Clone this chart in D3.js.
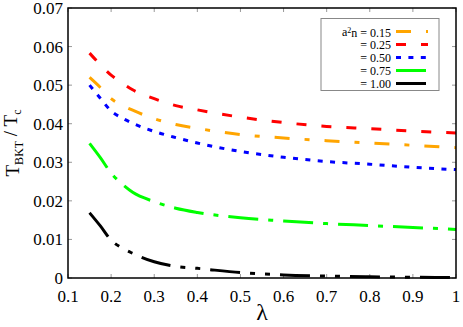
<!DOCTYPE html>
<html>
<head>
<meta charset="utf-8">
<title>T_BKT / T_c vs lambda</title>
<script src="https://cdn.jsdelivr.net/npm/d3@7"></script>
<style>
  body { margin: 0; background: #fff; }
  svg text { font-family: 'Liberation Serif', 'Times New Roman', Times, serif; }
</style>
</head>
<body>
<div id="chart"></div>
<script>
// lambda values where the curves are read
var lambda = [0.15, 0.175, 0.2, 0.225, 0.25, 0.3, 0.35, 0.4, 0.5, 0.6, 0.7, 0.8, 0.9, 1.0];

// T_BKT / T_c for each a^2 n
var t015 = [0.0520, 0.0494, 0.0465, 0.0448, 0.0435, 0.0413, 0.0398, 0.0388, 0.0372, 0.0363, 0.0356, 0.0350, 0.0344, 0.0338];
var t025 = [0.0583, 0.0553, 0.0526, 0.0506, 0.0488, 0.0465, 0.0447, 0.0436, 0.0417, 0.0403, 0.0393, 0.0387, 0.0381, 0.0376];
var t050 = [0.0500, 0.0466, 0.0433, 0.0415, 0.0401, 0.0380, 0.0364, 0.0350, 0.0328, 0.0313, 0.0302, 0.0295, 0.0287, 0.0281];
var t075 = [0.0349, 0.0312, 0.0272, 0.0244, 0.0222, 0.0198, 0.0181, 0.0170, 0.0156, 0.0148, 0.0141, 0.0136, 0.0131, 0.0126];
var t100 = [0.0169, 0.0135, 0.0098, 0.0078, 0.0064, 0.0042, 0.0030, 0.0025, 0.0014, 0.0008, 0.0005, 0.0003, 0.0002, 0.0001];

var legendLabels = ["0.15", "0.25", "0.50", "0.75", "1.00"];
var xTicks = [0.1, 0.2, 0.3, 0.4, 0.5, 0.6, 0.7, 0.8, 0.9, 1];
var yTicks = [0, 0.01, 0.02, 0.03, 0.04, 0.05, 0.06, 0.07];

var series = [
  {label: legendLabels[0], values: t015, color: "#ffa500", dash: "15,15,5,15"},
  {label: legendLabels[1], values: t025, color: "#ff0000", dash: "10,15"},
  {label: legendLabels[2], values: t050, color: "#0000ff", dash: "5,7.4"},
  {label: legendLabels[3], values: t075, color: "#00ff00", dash: "30,10,5,10"},
  {label: legendLabels[4], values: t100, color: "#000000", dash: "30,10,5,10,5,10"}
];

var W = 463, H = 327;
var margin = {top: 8, right: 7, bottom: 49, left: 68},
    width = W - margin.left - margin.right,
    height = H - margin.top - margin.bottom;

var svg = d3.select("#chart").append("svg")
    .attr("width", W)
    .attr("height", H);

var g = svg.append("g")
    .attr("transform", "translate(" + margin.left + "," + margin.top + ")");

var x = d3.scaleLinear().domain([0.1, 1]).range([0, width]);
var y = d3.scaleLinear().domain([0, 0.07]).range([height, 0]);

// ticks, inward on all four sides
var tickLen = 4;
g.selectAll(".xt").data(xTicks).enter().append("line")
    .attr("x1", function(d) { return x(d); }).attr("x2", function(d) { return x(d); })
    .attr("y1", height).attr("y2", height - tickLen)
    .attr("stroke", "#999").attr("stroke-width", 1);
g.selectAll(".xt2").data(xTicks).enter().append("line")
    .attr("x1", function(d) { return x(d); }).attr("x2", function(d) { return x(d); })
    .attr("y1", 0).attr("y2", tickLen)
    .attr("stroke", "#999").attr("stroke-width", 1);
g.selectAll(".yt").data(yTicks).enter().append("line")
    .attr("x1", 0).attr("x2", tickLen)
    .attr("y1", function(d) { return y(d); }).attr("y2", function(d) { return y(d); })
    .attr("stroke", "#999").attr("stroke-width", 1);
g.selectAll(".yt2").data(yTicks).enter().append("line")
    .attr("x1", width).attr("x2", width - tickLen)
    .attr("y1", function(d) { return y(d); }).attr("y2", function(d) { return y(d); })
    .attr("stroke", "#999").attr("stroke-width", 1);

// tick labels
g.selectAll(".xl").data(xTicks).enter().append("text")
    .attr("x", function(d) { return x(d); })
    .attr("y", height + 24)
    .attr("text-anchor", "middle")
    .attr("font-size", 17)
    .text(function(d) { return d === 1 ? "1" : d3.format(".1f")(d); });
g.selectAll(".yl").data(yTicks).enter().append("text")
    .attr("x", -5)
    .attr("y", function(d) { return y(d); })
    .attr("dy", "0.35em")
    .attr("text-anchor", "end")
    .attr("font-size", 17)
    .text(function(d) { return d === 0 ? "0" : d3.format(".2f")(d); });

// curves
var line = d3.line()
    .x(function(d, i) { return x(lambda[i]); })
    .y(function(d) { return y(d); })
    .curve(d3.curveMonotoneX);

g.selectAll(".curve").data(series).enter().append("path")
    .attr("d", function(s) { return line(s.values); })
    .attr("fill", "none")
    .attr("stroke", function(s) { return s.color; })
    .attr("stroke-width", 3)
    .attr("stroke-dasharray", function(s) { return s.dash; });

// frame
g.append("rect")
    .attr("width", width).attr("height", height)
    .attr("fill", "none").attr("stroke", "#000").attr("stroke-width", 1.5);

// legend
var lg = svg.append("g");
lg.append("rect")
    .attr("x", 321).attr("y", 18.5)
    .attr("width", 118).attr("height", 72)
    .attr("fill", "#fff").attr("stroke", "#888").attr("stroke-width", 1);

series.forEach(function(s, i) {
  var yy = 31.5 + i * 13;
  var t = lg.append("text")
      .attr("x", 391).attr("y", yy)
      .attr("dy", "0.35em")
      .attr("text-anchor", "end")
      .attr("font-size", 12);
  if (i === 0) {
    t.append("tspan").text("a");
    t.append("tspan").attr("dy", "-0.35em").attr("font-size", 8).text("2");
    t.append("tspan").attr("dy", "0.35em").text("n = " + s.label);
  } else {
    t.text("= " + s.label);
  }
  lg.append("line")
      .attr("x1", 396).attr("x2", 428)
      .attr("y1", yy).attr("y2", yy)
      .attr("stroke", s.color)
      .attr("stroke-width", 3)
      .attr("stroke-dasharray", s.dash);
});

// axis titles
svg.append("text")
    .attr("x", margin.left + width / 2)
    .attr("y", 320)
    .attr("text-anchor", "middle")
    .attr("font-size", 24)
    .text("λ");

var yt = svg.append("text")
    .attr("transform", "translate(19," + (margin.top + height / 2) + ") rotate(-90)")
    .attr("text-anchor", "middle")
    .attr("font-size", 19);
yt.append("tspan").text("T");
yt.append("tspan").attr("dy", "0.3em").attr("font-size", 12).text("BKT");
yt.append("tspan").attr("dy", "-0.3em").text(" / T");
yt.append("tspan").attr("dy", "0.3em").attr("font-size", 12).text("c");
</script>
</body>
</html>
